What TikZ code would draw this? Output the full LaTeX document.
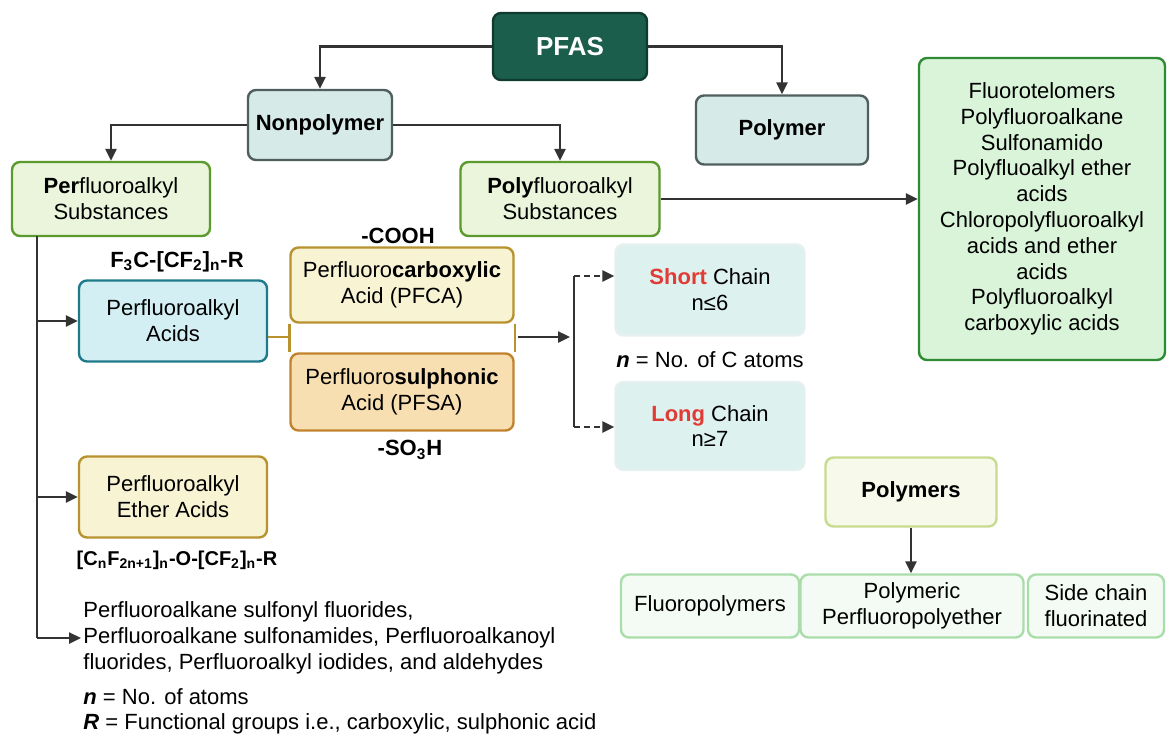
\documentclass[tikz,border=0pt]{standalone}
\usepackage{fontspec}
\setmainfont{Liberation Sans}
\usetikzlibrary{arrows.meta,positioning}
\definecolor{pfasfill}{HTML}{1B5E4B}
\definecolor{pfasdraw}{HTML}{0E3B2E}
\definecolor{classfill}{HTML}{D6EAE7}
\definecolor{classdraw}{HTML}{4F5F5E}
\definecolor{subfill}{HTML}{EAF5DC}
\definecolor{subdraw}{HTML}{5C9A2E}
\definecolor{acidfill}{HTML}{D3EFF4}
\definecolor{aciddraw}{HTML}{1E7A8A}
\definecolor{goldfill}{HTML}{F7F3D3}
\definecolor{golddraw}{HTML}{B8922E}
\definecolor{orangefill}{HTML}{F8DFB2}
\definecolor{orangedraw}{HTML}{C2822E}
\definecolor{chainfill}{HTML}{DDF1EF}
\definecolor{chaindraw}{HTML}{E6F0EF}
\definecolor{listfill}{HTML}{D9F4D9}
\definecolor{listdraw}{HTML}{2E8B34}
\definecolor{polyfill}{HTML}{F7FAEA}
\definecolor{polydraw}{HTML}{C8DA90}
\definecolor{kindfill}{HTML}{F4FBF4}
\definecolor{kinddraw}{HTML}{A9DDA9}
\definecolor{linegray}{HTML}{333333}
\definecolor{hotred}{HTML}{E23B36}
\newcommand{\bodyfont}{\fontsize{11}{12.9}\selectfont}

\begin{document}
\begin{tikzpicture}[x=0.5pt,y=-0.5pt,>={Triangle[length=6pt,width=5.5pt]},
 box/.style={draw,rounded corners=4pt,align=center,inner sep=2pt,line width=1.2pt,font=\bodyfont},
 conn/.style={draw=linegray,line width=1.2pt},
 tag/.style={font=\bfseries\bodyfont,inner sep=1pt}]
\useasboundingbox (0,0) rectangle (1176,750);
% top levels
\node[box,fill=pfasfill,draw=pfasdraw,text=white,font=\bfseries\fontsize{13}{15}\selectfont,
 minimum width=77pt,minimum height=33.5pt] (pfas) at (570,46.5) {PFAS};
\node[box,fill=classfill,draw=classdraw,font=\bfseries\bodyfont,minimum width=72pt,minimum height=35pt] (nonpoly) at (320,125) {Nonpolymer};
\node[box,fill=classfill,draw=classdraw,font=\bfseries\bodyfont,minimum width=86pt,minimum height=34.5pt] (poly) at (782,130) {Polymer};
\node[box,fill=subfill,draw=subdraw,minimum width=99pt,minimum height=37pt] (perS) at (111,199) {\textbf{Per}fluoroalkyl\\Substances};
\node[box,fill=subfill,draw=subdraw,minimum width=99.5pt,minimum height=37pt] (polyS) at (560,199) {\textbf{Poly}fluoroalkyl\\Substances};
\node[box,fill=listfill,draw=listdraw,minimum width=123pt,minimum height=151pt] (polylist) at (1042,209)
 {Fluorotelomers\\Polyfluoroalkane\\Sulfonamido\\Polyfluoalkyl ether\\acids\\Chloropolyfluoroalkyl\\acids and ether\\acids\\Polyfluoroalkyl\\carboxylic acids};
% perfluoroalkyl branch
\node[box,fill=acidfill,draw=aciddraw,minimum width=94pt,minimum height=40.5pt] (acids) at (173,321) {Perfluoroalkyl\\Acids};
\node[tag] (acidform) at (177,262) {F\textsubscript{3}C-[CF\textsubscript{2}]\textsubscript{n}-R};
\node[box,fill=goldfill,draw=golddraw,minimum width=111.5pt,minimum height=37.5pt] (pfca) at (402,285) {Perfluoro\textbf{carboxylic}\\Acid (PFCA)};
\node[box,fill=orangefill,draw=orangedraw,minimum width=111.5pt,minimum height=38.5pt] (pfsa) at (402,392) {Perfluoro\textbf{sulphonic}\\Acid (PFSA)};
\node[tag] (cooh) at (398,236) {-COOH};
\node[tag] (so3h) at (410,450) {-SO\textsubscript{3}H};
\node[box,fill=chainfill,draw=chaindraw,minimum width=94.5pt,minimum height=45.5pt] (short) at (710,290) {\textbf{\color{hotred}Short} Chain\\n≤6};
\node[font=\bodyfont] (catoms) at (710,360) {\textbf{\textit{n}} = No. of C atoms};
\node[box,fill=chainfill,draw=chaindraw,minimum width=94.5pt,minimum height=44pt] (long) at (710,426) {\textbf{\color{hotred}Long} Chain\\n≥7};
\node[box,fill=goldfill,draw=golddraw,minimum width=94pt,minimum height=40.5pt] (ether) at (173,497) {Perfluoroalkyl\\Ether Acids};
\node[tag,font=\bfseries\fontsize{10}{12}\selectfont] (etherform) at (177,560) {[C\textsubscript{n}F\textsubscript{2n+1}]\textsubscript{n}-O-[CF\textsubscript{2}]\textsubscript{n}-R};
\node[font=\bodyfont,align=left,anchor=west,inner sep=1pt] (others) at (81,638)
 {Perfluoroalkane sulfonyl fluorides,\\Perfluoroalkane sulfonamides, Perfluoroalkanoyl\\fluorides, Perfluoroalkyl iodides, and aldehydes};
\node[font=\bodyfont,anchor=west,inner sep=1pt] (natoms) at (81,697) {\textbf{\textit{n}} = No. of atoms};
\node[font=\bodyfont,anchor=west,inner sep=1pt] (rgroups) at (81,724) {\textbf{\textit{R}} = Functional groups i.e., carboxylic, sulphonic acid};
% polymers
\node[box,fill=polyfill,draw=polydraw,font=\bfseries\bodyfont,minimum width=85.5pt,minimum height=34.5pt] (polymers) at (911,492) {Polymers};
\node[box,fill=kindfill,draw=kinddraw,minimum width=89pt,minimum height=31.5pt] (fluoro) at (710,606) {Fluoropolymers};
\node[box,fill=kindfill,draw=kinddraw,minimum width=111.5pt,minimum height=31.5pt] (polymeric) at (912,606) {Polymeric\\Perfluoropolyether};
\node[box,fill=kindfill,draw=kinddraw,minimum width=68pt,minimum height=31.5pt] (sidechain) at (1096,606) {Side chain\\fluorinated};
% connectors
\draw[conn,->] (pfas.west) -| (nonpoly.north);
\draw[conn,->] (pfas.east) -| (poly.north);
\draw[conn,->] (nonpoly.west) -| (perS.north);
\draw[conn,->] (nonpoly.east) -| (polyS.north);
\draw[conn,->] (polyS.east) -- (polyS.east -| polylist.west);
\coordinate (trunk) at (37,236);
\coordinate (trunkend) at (37,638);
\draw[conn] (trunk) -- (trunkend);
\draw[conn,->] (trunk |- acids.west) -- (acids.west);
\draw[conn,->] (trunk |- ether.west) -- (ether.west);
\draw[conn,->] (trunkend) -- (others.west);
\coordinate (join) at (291,337);
\draw[golddraw,line width=1.2pt] (acids.east |- join) -- (join);
\draw[golddraw,line width=1.2pt] (pfca.south west) -- (pfsa.north west);
\draw[golddraw,line width=1.2pt] (pfca.south east) -- (pfsa.north east);
\coordinate (split) at (574,337);
\draw[conn,->] ([xshift=1.5pt]join -| pfca.east) -- ([xshift=-2pt]split);
\coordinate (toshort) at (574,276);
\coordinate (tolong) at (574,427);
\draw[conn] (toshort) -- (tolong);
\draw[conn,dash pattern=on 3pt off 2pt,->] (toshort) -- (toshort -| short.west);
\draw[conn,dash pattern=on 3pt off 2pt,->] (tolong) -- (tolong -| long.west);
\draw[conn,->] (polymers.south) -- (polymers.south |- polymeric.north);
\end{tikzpicture}
\end{document}
